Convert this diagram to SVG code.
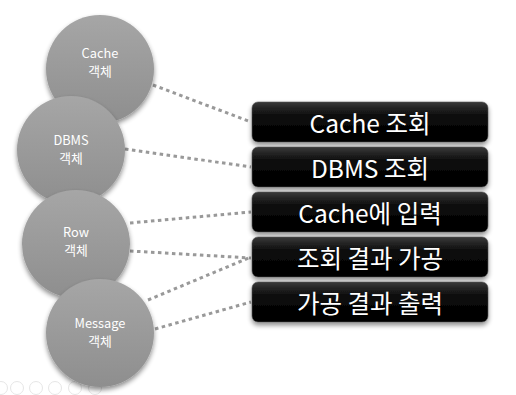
<svg xmlns="http://www.w3.org/2000/svg" width="516" height="395" viewBox="0 0 516 395">
  <defs>
    <linearGradient id="gCircle" x1="0" y1="0" x2="0" y2="1">
      <stop offset="0" stop-color="#a6a6a6"/>
      <stop offset="1" stop-color="#8e8e8e"/>
    </linearGradient>
    <linearGradient id="gBox" x1="0" y1="0" x2="0" y2="1">
      <stop offset="0" stop-color="#3a3a3a"/>
      <stop offset="0.35" stop-color="#0a0a0a"/>
      <stop offset="1" stop-color="#000000"/>
    </linearGradient>
    <filter id="shadow" x="-20%" y="-20%" width="140%" height="150%">
      <feGaussianBlur in="SourceAlpha" stdDeviation="2.5"/>
      <feOffset dx="0" dy="2.5" result="b"/>
      <feComponentTransfer><feFuncA type="linear" slope="0.45"/></feComponentTransfer>
      <feMerge><feMergeNode/><feMergeNode in="SourceGraphic"/></feMerge>
    </filter>
  </defs>
  <style>
    .circle { fill: url(#gCircle); filter: url(#shadow); }
    .ctext { font-family: "Noto Sans CJK KR", "Noto Sans", sans-serif; font-size: 12.8px; fill: #ffffff; text-anchor: middle; }
    .box { fill: url(#gBox); stroke: #555; stroke-width: 0.6; filter: url(#shadow); }
    .btext { font-family: "Noto Sans CJK KR", "Noto Sans", sans-serif; font-size: 24.5px; font-weight: 400; fill: #ffffff; text-anchor: middle; dominant-baseline: central; }
    .conn { stroke: #999999; stroke-width: 3; stroke-dasharray: 3.5 3.5; fill: none; }
    .icon { fill: none; stroke: #e6e6e6; stroke-width: 1; }
  </style>
  <rect width="516" height="395" fill="#ffffff"/>

  <g id="controls">
    <circle class="icon" cx="1" cy="388" r="6.5"/>
    <circle class="icon" cx="17" cy="388" r="6.5"/>
    <circle class="icon" cx="36" cy="388" r="6.5"/>
    <circle class="icon" cx="55" cy="388" r="6.5"/>
    <circle class="icon" cx="75" cy="388" r="6.5"/>
    <circle class="icon" cx="95" cy="388" r="6.5"/>
  </g>

  <g id="connectors">
    <line class="conn" x1="153" y1="85" x2="251" y2="122"/>
    <line class="conn" x1="125" y1="149" x2="251" y2="167"/>
    <line class="conn" x1="130" y1="223" x2="251" y2="212"/>
    <line class="conn" x1="130" y1="251" x2="251" y2="258"/>
    <line class="conn" x1="148" y1="300" x2="251" y2="257"/>
    <line class="conn" x1="155" y1="329" x2="251" y2="302"/>
  </g>

  <g id="cache-obj">
    <circle class="circle" cx="100" cy="69" r="54"/>
    <text class="ctext" x="100" y="58">Cache</text>
    <text class="ctext" x="100" y="76">객체</text>
  </g>
  <g id="dbms-obj">
    <circle class="circle" cx="71" cy="150" r="54"/>
    <text class="ctext" x="71" y="145">DBMS</text>
    <text class="ctext" x="71" y="163">객체</text>
  </g>
  <g id="row-obj">
    <circle class="circle" cx="76" cy="244" r="54"/>
    <text class="ctext" x="76" y="237">Row</text>
    <text class="ctext" x="76" y="255">객체</text>
  </g>
  <g id="message-obj">
    <circle class="circle" cx="100" cy="333" r="54"/>
    <text class="ctext" x="100" y="328">Message</text>
    <text class="ctext" x="100" y="346">객체</text>
  </g>

  <g id="step-cache-lookup">
    <rect class="box" x="252" y="102" width="236" height="40" rx="6"/>
    <text class="btext" x="370" y="122">Cache 조회</text>
  </g>
  <g id="step-dbms-lookup">
    <rect class="box" x="252" y="147" width="236" height="40" rx="6"/>
    <text class="btext" x="370" y="167">DBMS 조회</text>
  </g>
  <g id="step-cache-insert">
    <rect class="box" x="252" y="192" width="236" height="40" rx="6"/>
    <text class="btext" x="370" y="212">Cache에 입력</text>
  </g>
  <g id="step-process">
    <rect class="box" x="252" y="237" width="236" height="40" rx="6"/>
    <text class="btext" x="370" y="257">조회 결과 가공</text>
  </g>
  <g id="step-output">
    <rect class="box" x="252" y="282" width="236" height="40" rx="6"/>
    <text class="btext" x="370" y="302">가공 결과 출력</text>
  </g>
</svg>
